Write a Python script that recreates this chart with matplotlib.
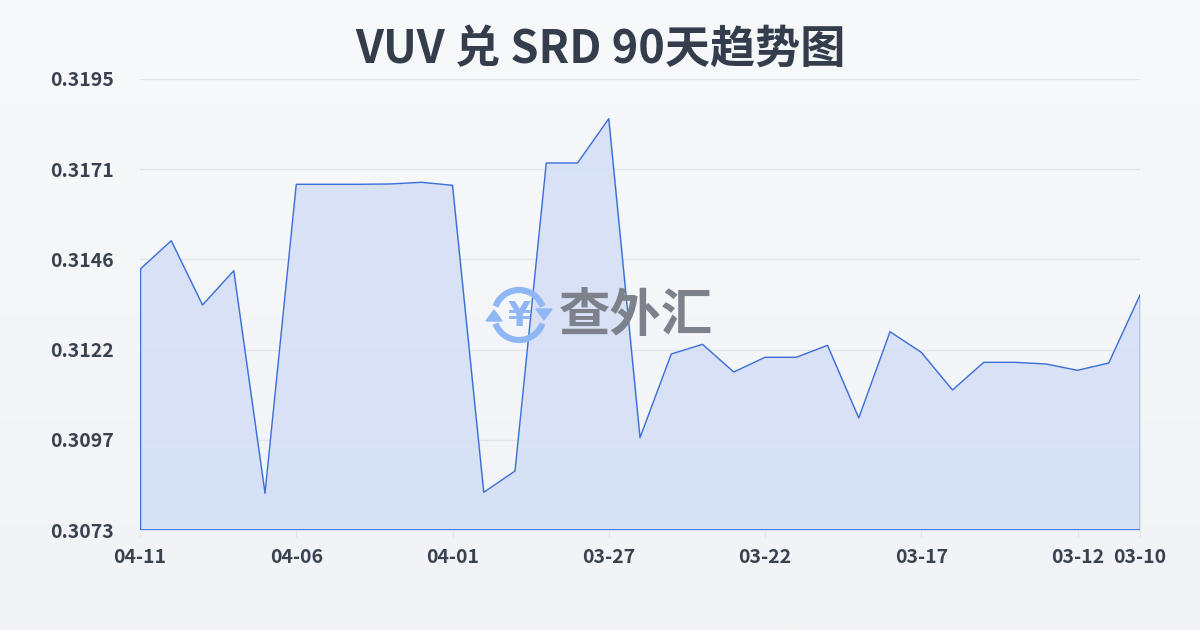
import numpy as np
import pandas as pd
import matplotlib
matplotlib.use("Agg")
import matplotlib.pyplot as plt
from matplotlib.patches import Arc, Polygon
from matplotlib.colors import LinearSegmentedColormap

plt.rcParams['font.family'] = ['Noto Sans CJK SC', 'DejaVu Sans']

# ---- data ----
dates = [d.strftime('%m-%d') for d in pd.date_range('2025-03-10', '2025-04-11')][::-1]
values = [0.314352, 0.315126, 0.313387, 0.314314, 0.308293, 0.316652, 0.316652,
          0.316652, 0.316660, 0.316706, 0.316625, 0.308320, 0.308896, 0.317228,
          0.317228, 0.318426, 0.309797, 0.312061, 0.312323, 0.311574, 0.311972,
          0.311972, 0.312296, 0.310330, 0.312664, 0.312107, 0.311087, 0.311836,
          0.311836, 0.311790, 0.311620, 0.311818, 0.313657]
tick_labels = ['04-11', '04-06', '04-01', '03-27', '03-22', '03-17', '03-12', '03-10']
y_min, y_max = 0.3073, 0.3195
title = 'VUV 兑 SRD 90天趋势图'
watermark = '查外汇'

W, H = 1200, 630
fig = plt.figure(figsize=(W / 100, H / 100), dpi=100)

# background gradient
bg = fig.add_axes([0, 0, 1, 1], zorder=-10)
grad = np.linspace(0, 1, 256).reshape(-1, 1)
cmap = LinearSegmentedColormap.from_list('bg', ['#f8f9fb', '#f1f3f6'])
bg.imshow(grad, aspect='auto', cmap=cmap, extent=[0, 1, 0, 1])
bg.axis('off')

ax = fig.add_axes([140 / W, (H - 530) / H, 1000 / W, 451 / H])
ax.set_facecolor('none')
x = np.arange(len(values))
line_color = '#3a6fd8'
ax.fill_between(x, values, y_min, color='#d5dff5', alpha=0.9, zorder=2)
ax.plot(x, values, color=line_color, lw=1.0, zorder=3)
ax.plot([x[0], x[0]], [y_min, values[0]], color=line_color, lw=1.0, zorder=3)
ax.plot([x[-1], x[-1]], [y_min, values[-1]], color=line_color, lw=1.0, zorder=3)
ax.plot([x[0], x[-1]], [y_min, y_min], color=line_color, lw=1.2, zorder=3)

ax.set_xlim(0, len(values) - 1)
ax.set_ylim(y_min, y_max)
yt = np.linspace(y_min, y_max, 6)
ax.set_yticks(yt)
ax.set_yticklabels([f'{v:.4f}' for v in yt])
ax.grid(axis='y', color='#e1e4e9', lw=1.0, zorder=1)
xt = [dates.index(t) for t in tick_labels]
ax.set_xticks(xt)
ax.set_xticklabels(tick_labels)
for s in ax.spines.values():
    s.set_visible(False)
ax.tick_params(axis='y', length=0, pad=19, labelsize=14, labelcolor='#3a4250')
ax.tick_params(axis='x', length=5, color='#e1e4e9', pad=8, labelsize=14, labelcolor='#3a4250')
for lab in ax.get_xticklabels() + ax.get_yticklabels():
    lab.set_fontweight('bold')

# title
fig.text(600 / W, 1 - 50 / H, title, ha='center', va='center', fontsize=32.5,
         fontweight='bold', color='#343d4c')

# watermark
wm = fig.add_axes([0, 0, 1, 1], zorder=5)
wm.set_xlim(0, W)
wm.set_ylim(H, 0)
wm.axis('off')
cx, cy, r = 519, 315, 25
icol = '#8fb6f5'
wm.add_patch(Arc((cx, cy), 2 * r, 2 * r, theta1=200, theta2=340, lw=4.5, color=icol))
wm.add_patch(Arc((cx, cy), 2 * r, 2 * r, theta1=20, theta2=160, lw=4.5, color=icol))
wm.add_patch(Polygon([[cx + r - 8, cy - 6], [cx + r + 8, cy - 6], [cx + r, cy + 5]], color=icol))
wm.add_patch(Polygon([[cx - r - 8, cy + 6], [cx - r + 8, cy + 6], [cx - r, cy - 5]], color=icol))
wm.text(cx, cy + 1, '¥', ha='center', va='center', fontsize=24, fontweight='bold',
        color=icol, family=['DejaVu Sans'])
wm.text(636, 315, watermark, ha='center', va='center', fontsize=37, fontweight='bold',
        color='#7d818b')

fig.savefig('out.png', dpi=100)
